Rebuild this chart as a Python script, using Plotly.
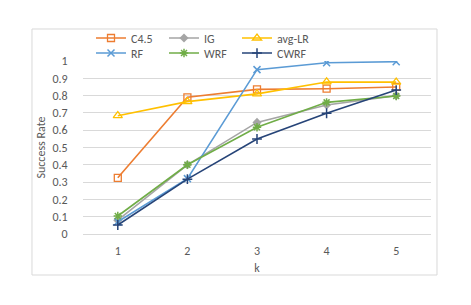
import plotly.graph_objects as go

k = [1, 2, 3, 4, 5]
c45 = [0.325, 0.79, 0.836, 0.84, 0.85]
ig = [0.08, 0.40, 0.645, 0.746, 0.80]
avg_lr = [0.684, 0.765, 0.81, 0.879, 0.878]
rf = [0.071, 0.32, 0.95, 0.99, 0.996]
wrf = [0.104, 0.40, 0.617, 0.761, 0.798]
cwrf = [0.052, 0.317, 0.549, 0.698, 0.832]
y_ticks = [0, 0.1, 0.2, 0.3, 0.4, 0.5, 0.6, 0.7, 0.8, 0.9, 1]

FONT = "Carlito, Lato, sans-serif"
TXT = "#595959"

series = [
    ("C4.5", c45, "#ED7D31", dict(symbol="square-open", size=7, line=dict(width=1.3)), "legend"),
    ("IG", ig, "#A5A5A5", dict(symbol="diamond", size=7), "legend"),
    ("avg-LR", avg_lr, "#FFC000", dict(symbol="triangle-up-open", size=8, line=dict(width=1.3)), "legend"),
    ("RF", rf, "#5B9BD5", dict(symbol="x-thin-open", size=7, line=dict(width=1.5)), "legend2"),
    ("WRF", wrf, "#70AD47", dict(symbol="asterisk-open", size=7, line=dict(width=1.5)), "legend2"),
    ("CWRF", cwrf, "#264478", dict(symbol="cross-thin-open", size=7, line=dict(width=1.5)), "legend2"),
]

fig = go.Figure()
for name, vals, color, mk, lg in series:
    mk = dict(mk)
    mk["color"] = color
    if "line" in mk:
        mk["line"] = dict(mk["line"], color=color)
    fig.add_trace(go.Scatter(x=k, y=vals, name=name, mode="lines+markers",
                             line=dict(color=color, width=1.6), marker=mk,
                             legend=lg))

leg_common = dict(orientation="h", xanchor="left", yanchor="middle",
                  entrywidth=28, font=dict(size=12, color=TXT), bgcolor="rgba(0,0,0,0)",
                  itemwidth=30, tracegroupgap=0)
fig.update_layout(
    width=471, height=305,
    margin=dict(l=75, r=48, t=53, b=79, autoexpand=False),
    paper_bgcolor="white", plot_bgcolor="white",
    font=dict(family=FONT, size=12, color=TXT),
    legend=dict(leg_common, x=0.023, y=1.133),
    legend2=dict(leg_common, x=0.023, y=1.046),
    showlegend=True,
)
fig.update_xaxes(range=[0.5, 5.5], tickvals=k, ticktext=[str(v) for v in k],
                 showgrid=False, zeroline=False, showline=False,
                 ticks="outside", ticklen=6, tickcolor="rgba(0,0,0,0)",
                 tickfont=dict(size=12, color=TXT),
                 title=dict(text="k", font=dict(size=12, color=TXT), standoff=6))
fig.update_yaxes(range=[0, 1.0], tickvals=y_ticks, ticktext=[f"{v:g}" for v in y_ticks],
                 showgrid=True, gridcolor="#D9D9D9", gridwidth=1,
                 zeroline=True, zerolinecolor="#D9D9D9", zerolinewidth=1,
                 showline=False, ticks="outside", ticklen=12, tickcolor="rgba(0,0,0,0)",
                 tickfont=dict(size=12, color=TXT),
                 title=dict(text="Success Rate", font=dict(size=12, color=TXT), standoff=4))
fig.add_shape(type="rect", xref="paper", yref="paper",
              x0=-0.1466, x1=1.0172, y0=-0.237, y1=1.185,
              line=dict(color="#D9D9D9", width=1), fillcolor="rgba(0,0,0,0)", layer="below")

fig.write_html("out.html")
